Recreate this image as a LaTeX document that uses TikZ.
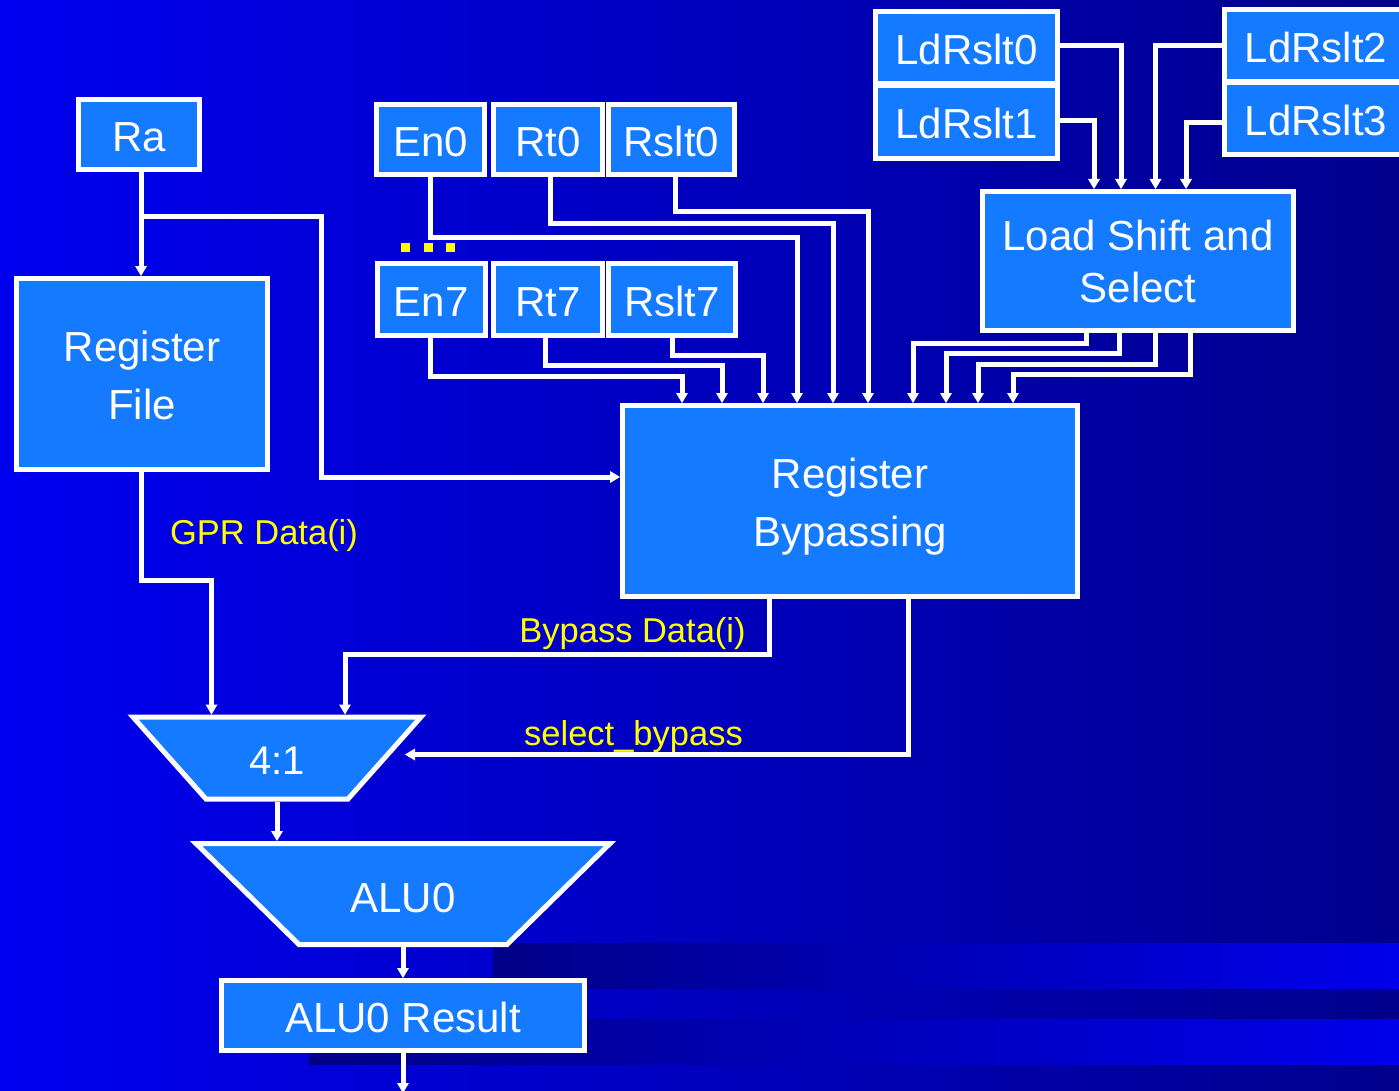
\documentclass[tikz,border=0pt]{standalone}
\usepackage{fontspec}
\setmainfont{Liberation Sans}
\usetikzlibrary{arrows.meta}

\definecolor{slidebright}{RGB}{0,0,240}
\definecolor{slidedark}{RGB}{0,0,140}
\definecolor{bandlight}{RGB}{0,0,234}
\definecolor{banddark}{RGB}{0,0,136}
\definecolor{boxblue}{RGB}{20,122,255}
\definecolor{tagyellow}{RGB}{255,255,0}

\tikzset{
  blockbox/.style={draw=white, line width=5pt, fill=boxblue, text=white,
    inner sep=0pt, outer sep=2.5pt, align=center,
    font=\fontsize{42}{58}\selectfont},
  oneline/.style={text height=34pt, text depth=0pt},
  textonly/.style={text=white, inner sep=0pt, outer sep=2.5pt,
    font=\fontsize{42}{50}\selectfont},
  unitedge/.style={draw=white, line width=5pt, fill=boxblue, line join=miter},
  wire/.style={draw=white, line width=5pt, line join=miter},
  feed/.style={wire, -{Triangle[width=12pt,length=10pt,line width=0pt]}},
  tag/.style={text=tagyellow, inner sep=0pt, anchor=base,
    font=\fontsize{34.5}{40}\selectfont},
}

\begin{document}
\begin{tikzpicture}[x=1pt,y=-1pt]
\useasboundingbox (0,0) rectangle (1399,1091);
\clip (0,0) rectangle (1399,1091);

% slide background with its two darker bands
\shade[left color=slidebright, right color=slidedark] (0,0) rectangle (1399,1091);
\shade[left color=banddark, right color=bandlight] (493,943) rectangle (1399,988);
\shade[left color=banddark, right color=bandlight] (309,1019) rectangle (1399,1064);

% register file path
\node[blockbox, oneline, minimum width=121pt, minimum height=70pt] (ra) at (139,134.5) {Ra};
\node[blockbox, minimum width=251pt, minimum height=191pt] (rf) at (142,374)
  {\rule{0pt}{34pt}Register\\File};

% pending writes: entries 0 .. 7
\node[blockbox, oneline, minimum width=108pt, minimum height=70pt] (en0) at (430.5,139.5) {En0};
\node[blockbox, oneline, minimum width=109pt, minimum height=70pt] (rt0) at (548,139.5) {Rt0};
\node[blockbox, oneline, minimum width=126pt, minimum height=70pt] (rslt0) at (671.5,139.5) {Rslt0};
\node[blockbox, oneline, minimum width=108pt, minimum height=72pt] (en7) at (431,299.5) {En7};
\node[blockbox, oneline, minimum width=109pt, minimum height=72pt] (rt7) at (548,299.5) {Rt7};
\node[blockbox, oneline, minimum width=127pt, minimum height=72pt] (rslt7) at (672,299.5) {Rslt7};
\fill[tagyellow] (401,243) rectangle (410,252);
\fill[tagyellow] (424,243) rectangle (433,252);
\fill[tagyellow] (446,243) rectangle (455,252);

% load results
\node[blockbox, oneline, minimum width=182pt, minimum height=72pt] (ld0) at (966.5,47.5) {LdRslt0};
\node[blockbox, oneline, minimum width=182pt, minimum height=73pt] (ld1) at (966.5,122) {LdRslt1};
\node[blockbox, oneline, minimum width=183pt, minimum height=72pt] (ld2) at (1316,45.5) {LdRslt2};
\node[blockbox, oneline, minimum width=183pt, minimum height=72pt] (ld3) at (1316,118.5) {LdRslt3};
\node[blockbox, minimum width=311pt, minimum height=139pt] (lss) at (1138,261)
  {\rule{0pt}{32pt}Load Shift and\\[-6pt]Select};

% bypass network
\node[blockbox, minimum width=455pt, minimum height=191pt] (rb) at (850,501)
  {\rule{0pt}{42pt}Register\\Bypassing\rule[-10pt]{0pt}{10pt}};

% operand mux and ALU
\draw[unitedge] (133,717) -- (421,717) -- (348,799) -- (206,799) -- cycle;
\node[textonly, font=\fontsize{40}{48}\selectfont, text height=32pt, text depth=0pt,
  minimum width=288pt, minimum height=82pt] (mux) at (277,758) {4:1};
\coordinate (muxsel) at (405,754.5);

\draw[unitedge] (196,843.5) -- (610,843.5) -- (507,944.5) -- (299,944.5) -- cycle;
\node[textonly, text height=36pt, text depth=0pt,
  minimum width=414pt, minimum height=101pt] (alu) at (403,894) {ALU0};

\node[blockbox, oneline, minimum width=363pt, minimum height=70pt] (res) at (403,1015.5) {ALU0 Result};
\coordinate (resout) at (403,1093);

% wires
\draw[feed] (141,0 |- ra.south) -- (141,0 |- rf.north);
\coordinate (rabranch) at (141,217);
\draw[feed] (rabranch) -| (321,477) -- (rb.west |- 0,477);
\draw[feed] (141,0 |- rf.south) |- (211.5,580) -- (211.5,0 |- mux.north);

\draw[feed] (430,0 |- en0.south) |- (797,238) -- (797,0 |- rb.north);
\draw[feed] (550.5,0 |- rt0.south) |- (833,224) -- (833,0 |- rb.north);
\draw[feed] (675,0 |- rslt0.south) |- (868,212) -- (868,0 |- rb.north);
\draw[feed] (430,0 |- en7.south) |- (682,376) -- (682,0 |- rb.north);
\draw[feed] (545,0 |- rt7.south) |- (722,365) -- (722,0 |- rb.north);
\draw[feed] (672,0 |- rslt7.south) |- (763,355) -- (763,0 |- rb.north);

\draw[feed] (ld0.east |- 0,45.5) -| (1121,0 |- lss.north);
\draw[feed] (ld1.east |- 0,120.5) -| (1094,0 |- lss.north);
\draw[feed] (ld2.west |- 0,45.5) -| (1155.5,0 |- lss.north);
\draw[feed] (ld3.west |- 0,123) -| (1186,0 |- lss.north);

\draw[feed] (1086,0 |- lss.south) |- (913,343) -- (913,0 |- rb.north);
\draw[feed] (1119,0 |- lss.south) |- (946,353) -- (946,0 |- rb.north);
\draw[feed] (1155,0 |- lss.south) |- (978,364) -- (978,0 |- rb.north);
\draw[feed] (1190,0 |- lss.south) |- (1013,374) -- (1013,0 |- rb.north);

\draw[feed] (769,0 |- rb.south) |- (345,654) -- (345,0 |- mux.north);
\draw[feed] (908,0 |- rb.south) |- (muxsel);
\draw[feed] (mux.south) -- (mux.south |- alu.north);
\draw[feed] (alu.south) -- (res.north);
\draw[feed] (res.south) -- (resout);

% signal names
\node[tag] (gprtag) at (264,544) {GPR Data(i)};
\node[tag] (bypasstag) at (632.5,642) {Bypass Data(i)};
\node[tag] (seltag) at (633.5,745) {select\_bypass};
\end{tikzpicture}
\end{document}
